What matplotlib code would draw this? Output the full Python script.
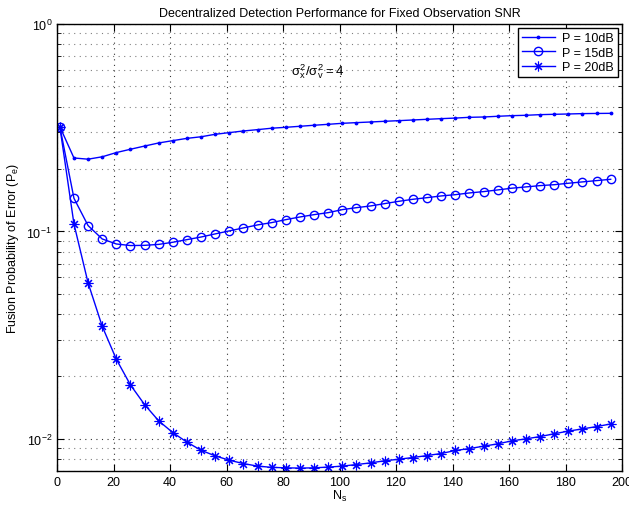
import numpy as np
import matplotlib
matplotlib.use("Agg")
import matplotlib.pyplot as plt
from matplotlib.ticker import LogLocator, NullFormatter, FixedLocator

plt.rcParams['font.family'] = ['Liberation Sans', 'DejaVu Sans']
plt.rcParams['mathtext.fontset'] = 'custom'
plt.rcParams['mathtext.rm'] = 'Liberation Sans'
plt.rcParams['mathtext.it'] = 'Liberation Sans'

Ns = list(range(1, 200, 5))

pe_10dB = [0.320, 0.226, 0.223, 0.229, 0.240, 0.249, 0.258, 0.267, 0.274, 0.281,
           0.286, 0.294, 0.2995, 0.305, 0.3096, 0.3145, 0.3177, 0.3213, 0.325, 0.3284,
           0.3321, 0.3346, 0.337, 0.3396, 0.342, 0.3446, 0.3472, 0.3497, 0.352, 0.3549,
           0.3562, 0.359, 0.3615, 0.363, 0.3656, 0.367, 0.3683, 0.3698, 0.3705, 0.371]

pe_15dB = [0.320, 0.1445, 0.1067, 0.092, 0.087, 0.0855, 0.0857, 0.0866, 0.0887, 0.0913,
           0.094, 0.0973, 0.1006, 0.104, 0.1075, 0.1103, 0.114, 0.1174, 0.1205, 0.1232,
           0.1274, 0.1302, 0.1327, 0.1362, 0.1397, 0.1429, 0.1455, 0.1483, 0.1504, 0.1533,
           0.1556, 0.1585, 0.1616, 0.1639, 0.1663, 0.168, 0.1707, 0.1733, 0.1758, 0.1784]

pe_20dB = [0.320, 0.1087, 0.0565, 0.0349, 0.0242, 0.0182, 0.01463, 0.01221, 0.01072, 0.00964,
           0.00881, 0.00828, 0.00789, 0.0076, 0.00739, 0.00729, 0.00725, 0.00723, 0.00725, 0.00731,
           0.00739, 0.00752, 0.00766, 0.00784, 0.00798, 0.00813, 0.00831, 0.0085, 0.00879, 0.00898,
           0.00922, 0.00946, 0.00978, 0.0100, 0.01026, 0.01058, 0.0109, 0.01117, 0.01146, 0.0118]

labels = ['P = 10dB', 'P = 15dB', 'P = 20dB']
x_ticks = list(range(0, 201, 20))

fig = plt.figure(figsize=(6.29, 5.10), dpi=100)
ax = fig.add_axes([57/629, 1 - 472/510, (622 - 57)/629, (472 - 25)/510])

blue = (0, 0, 1)
ax.semilogy(Ns, pe_10dB, '-', color=blue, marker='.', markersize=3.5, lw=1, label=labels[0])
ax.semilogy(Ns, pe_15dB, '-', color=blue, marker='o', markersize=6, mfc='none', mew=1, lw=1, label=labels[1])
ax.semilogy(Ns, pe_20dB, '-', color=blue, marker=(8, 2, 0), markersize=7, mew=0.8, lw=1, label=labels[2])

ax.set_xlim(0, 200)
ax.set_ylim(0.007, 1)
ax.xaxis.set_major_locator(FixedLocator(x_ticks))
ax.yaxis.set_major_locator(LogLocator(base=10, numticks=10))
ax.yaxis.set_minor_locator(LogLocator(base=10, subs=np.arange(2, 10), numticks=10))
ax.yaxis.set_minor_formatter(NullFormatter())

dots = (0, (1, 4))
ax.grid(True, which='major', linestyle=dots, color='black', lw=0.8, alpha=0.8)
ax.grid(True, which='minor', axis='y', linestyle=dots, color='black', lw=0.8, alpha=0.5)
ax.tick_params(which='both', direction='in', top=True, right=True, labelsize=9)
ax.tick_params(which='major', length=5)
ax.tick_params(which='minor', length=3)
for s in ax.spines.values():
    s.set_linewidth(1)

ax.set_title('Decentralized Detection Performance for Fixed Observation SNR', fontsize=9, pad=6)
ax.set_xlabel('N$_s$', fontsize=9, labelpad=0)
ax.set_ylabel('Fusion Probability of Error (P$_e$)', fontsize=9, labelpad=4)

ax.text(83, 0.593, r'$\sigma_x^2/\sigma_v^2 = 4$', fontsize=9.5, va='center', ha='left')

leg = ax.legend(loc='upper right', fontsize=9, fancybox=False, framealpha=1,
                edgecolor='black', borderaxespad=0.35, handlelength=2.6,
                borderpad=0.3, labelspacing=0.2, handletextpad=0.6)
leg.get_frame().set_linewidth(1)

fig.savefig('out.png', dpi=100)
